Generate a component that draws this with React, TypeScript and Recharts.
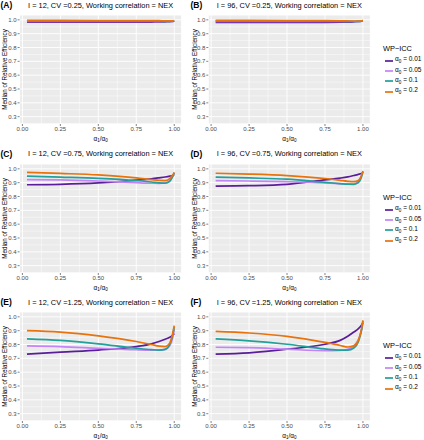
import { LineChart, Line, XAxis, YAxis, CartesianGrid, ReferenceLine, Label } from 'recharts'

// alpha1 / alpha0 grid where the curves are read
const alphaRatio = [0.03, 0.25, 0.5, 0.75, 0.85, 0.9, 0.94, 0.97, 0.99, 1.0]
const iccLabels = ['0.01', '0.05', '0.1', '0.2']
const panelTags = ['(A)', '(B)', '(C)', '(D)', '(E)', '(F)']
const panelTitles = [
  'I = 12, CV =0.25, Working correlation = NEX',
  'I = 96, CV =0.25, Working correlation = NEX',
  'I = 12, CV =0.75, Working correlation = NEX',
  'I = 96, CV =0.75, Working correlation = NEX',
  'I = 12, CV =1.25, Working correlation = NEX',
  'I = 96, CV =1.25, Working correlation = NEX',
]
const yTicks = [0.3, 0.4, 0.5, 0.6, 0.7, 0.8, 0.9, 1.0]
const yMinor = [0.25, 0.35, 0.45, 0.55, 0.65, 0.75, 0.85, 0.95]
const xTicks = [0, 0.25, 0.5, 0.75, 1]
const xMinor = [0.125, 0.375, 0.625, 0.875]

// (A) I = 12, CV = 0.25
const a_icc001 = [0.983, 0.983, 0.983, 0.983, 0.984, 0.985, 0.986, 0.987, 0.989, 0.99]
const a_icc005 = [0.988, 0.988, 0.988, 0.988, 0.988, 0.988, 0.988, 0.988, 0.989, 0.99]
const a_icc01 = [0.992, 0.992, 0.991, 0.991, 0.99, 0.99, 0.989, 0.989, 0.99, 0.991]
const a_icc02 = [0.996, 0.996, 0.995, 0.995, 0.994, 0.994, 0.993, 0.993, 0.993, 0.994]
// (B) I = 96, CV = 0.25
const b_icc001 = [0.982, 0.982, 0.982, 0.982, 0.983, 0.984, 0.986, 0.988, 0.99, 0.992]
const b_icc005 = [0.989, 0.989, 0.989, 0.989, 0.988, 0.988, 0.988, 0.989, 0.991, 0.993]
const b_icc01 = [0.993, 0.993, 0.992, 0.991, 0.99, 0.989, 0.988, 0.989, 0.991, 0.994]
const b_icc02 = [0.996, 0.996, 0.995, 0.994, 0.993, 0.992, 0.991, 0.991, 0.993, 0.995]
// (C) I = 12, CV = 0.75
const c_icc001 = [0.885, 0.888, 0.898, 0.918, 0.928, 0.935, 0.941, 0.947, 0.952, 0.956]
const c_icc005 = [0.922, 0.92, 0.912, 0.9, 0.896, 0.895, 0.898, 0.915, 0.945, 0.97]
const c_icc01 = [0.947, 0.94, 0.931, 0.915, 0.905, 0.898, 0.896, 0.91, 0.945, 0.972]
const c_icc02 = [0.975, 0.967, 0.956, 0.935, 0.922, 0.916, 0.915, 0.93, 0.955, 0.975]
// (D) I = 96, CV = 0.75
const d_icc001 = [0.875, 0.878, 0.888, 0.92, 0.933, 0.942, 0.952, 0.96, 0.966, 0.97]
const d_icc005 = [0.915, 0.912, 0.907, 0.898, 0.892, 0.889, 0.89, 0.91, 0.95, 0.98]
const d_icc01 = [0.94, 0.934, 0.925, 0.902, 0.893, 0.889, 0.888, 0.9, 0.94, 0.98]
const d_icc02 = [0.968, 0.962, 0.951, 0.93, 0.917, 0.91, 0.907, 0.915, 0.95, 0.985]
// (E) I = 12, CV = 1.25
const e_icc001 = [0.73, 0.745, 0.76, 0.785, 0.805, 0.822, 0.838, 0.852, 0.867, 0.88]
const e_icc005 = [0.79, 0.785, 0.773, 0.762, 0.76, 0.76, 0.765, 0.79, 0.85, 0.91]
const e_icc01 = [0.841, 0.83, 0.805, 0.773, 0.763, 0.76, 0.765, 0.8, 0.87, 0.925]
const e_icc02 = [0.9, 0.89, 0.863, 0.822, 0.8, 0.788, 0.785, 0.81, 0.88, 0.936]
// (F) I = 96, CV = 1.25
const f_icc001 = [0.73, 0.74, 0.766, 0.802, 0.83, 0.86, 0.89, 0.915, 0.94, 0.956]
const f_icc005 = [0.78, 0.778, 0.766, 0.756, 0.758, 0.766, 0.79, 0.835, 0.9, 0.956]
const f_icc01 = [0.84, 0.826, 0.802, 0.768, 0.76, 0.76, 0.775, 0.82, 0.9, 0.97]
const f_icc02 = [0.895, 0.883, 0.859, 0.815, 0.793, 0.782, 0.79, 0.83, 0.91, 0.975]

const panelSeries = [
  [a_icc001, a_icc005, a_icc01, a_icc02],
  [b_icc001, b_icc005, b_icc01, b_icc02],
  [c_icc001, c_icc005, c_icc01, c_icc02],
  [d_icc001, d_icc005, d_icc01, d_icc02],
  [e_icc001, e_icc005, e_icc01, e_icc02],
  [f_icc001, f_icc005, f_icc01, f_icc02],
]

const COLORS = ['#5A1E9B', '#C384F7', '#22A09A', '#E8720C']
const FONT = '"Liberation Sans", Arial, sans-serif'
const ROW_H = 148.5
const CHART_H = 148
const PLOT_TOP = 15
const PLOT_BOTTOM = 124
const X_AXIS_H = 14
const Y_AXIS_W = 12

const buildRows = (series: number[][]) =>
  alphaRatio.map((x, i) => ({ x, s0: series[0][i], s1: series[1][i], s2: series[2][i], s3: series[3][i] }))

function Panel({ idx }: { idx: number }) {
  const col = idx % 2
  const row = Math.floor(idx / 2)
  const left = col === 0 ? 0 : 190
  const width = col === 0 ? 190 : 234
  const plotLeft = col === 0 ? 19.6 : 208.3
  const plotRight = col === 0 ? 181.6 : 370.3
  const top = row * ROW_H
  const data = buildRows(panelSeries[idx])

  const yTitle = (p: any) => {
    const vb = p.viewBox
    const cy = vb.y + vb.height / 2
    const cx = 4.6
    return (
      <text x={cx} y={cy} transform={`rotate(-90 ${cx} ${cy})`} textAnchor="middle" dominantBaseline="central"
        fontSize={6.3} fill="#000" fontFamily={FONT}>
        Median of Relative Efficiency
      </text>
    )
  }
  const xTitle = (p: any) => {
    const vb = p.viewBox
    const cx = vb.x + vb.width / 2
    const cy = vb.y + 17
    return (
      <text x={cx} y={cy} textAnchor="middle" fontSize={6.4} fill="#000" fontFamily={FONT}>
        α<tspan fontSize={4.5} dy={1.4}>1</tspan><tspan dy={-1.4}>/α</tspan><tspan fontSize={4.5} dy={1.4}>0</tspan>
      </text>
    )
  }

  return (
    <div style={{ position: 'absolute', left, top, width, height: CHART_H }}>
      <LineChart
        width={width}
        height={CHART_H}
        data={data}
        margin={{
          top: PLOT_TOP,
          bottom: CHART_H - PLOT_BOTTOM - X_AXIS_H,
          left: plotLeft - left - Y_AXIS_W,
          right: left + width - plotRight,
        }}
      >
        <CartesianGrid fill="#EBEBEB" stroke="#FFFFFF" strokeWidth={0.9} />
        {yMinor.map((v) => (
          <ReferenceLine key={`ym${v}`} y={v} stroke="#FFFFFF" strokeWidth={0.45} />
        ))}
        {xMinor.map((v) => (
          <ReferenceLine key={`xm${v}`} x={v} stroke="#FFFFFF" strokeWidth={0.45} />
        ))}
        <XAxis
          dataKey="x"
          type="number"
          domain={[-0.0185, 1.0485]}
          ticks={xTicks}
          tickFormatter={(v: number) => v.toFixed(2)}
          axisLine={false}
          tickLine={{ stroke: '#333333', strokeWidth: 0.6 }}
          tickSize={2}
          tickMargin={1}
          height={X_AXIS_H}
          tick={{ fontSize: 6, fill: '#4D4D4D', fontFamily: FONT }}
          allowDataOverflow
          interval={0}
        >
          <Label content={xTitle} />
        </XAxis>
        <YAxis
          type="number"
          domain={[0.247, 1.035]}
          ticks={yTicks}
          tickFormatter={(v: number) => v.toFixed(1)}
          axisLine={false}
          tickLine={{ stroke: '#333333', strokeWidth: 0.6 }}
          tickSize={2}
          tickMargin={1}
          width={Y_AXIS_W}
          tick={{ fontSize: 6, fill: '#4D4D4D', fontFamily: FONT }}
          allowDataOverflow
          interval={0}
        >
          <Label content={yTitle} />
        </YAxis>
        {iccLabels.map((lab, i) => (
          <Line
            key={lab}
            dataKey={`s${i}`}
            type="monotone"
            stroke={COLORS[i]}
            strokeWidth={1.7}
            dot={false}
            isAnimationActive={false}
          />
        ))}
      </LineChart>
      <div style={{ position: 'absolute', left: 0.5, top: 0, fontSize: 8.5, fontWeight: 'bold', fontFamily: FONT, lineHeight: '10px' }}>
        {panelTags[idx]}
      </div>
      <div
        style={{
          position: 'absolute',
          left: plotLeft - left,
          width: plotRight - plotLeft,
          top: 0.5,
          textAlign: 'center',
          fontSize: 7.4,
          fontFamily: FONT,
          lineHeight: '9px',
          whiteSpace: 'nowrap',
        }}
      >
        {panelTitles[idx]}
      </div>
    </div>
  )
}

function IccLegend({ row }: { row: number }) {
  const top = Math.round(row * ROW_H + 43)
  return (
    <div style={{ position: 'absolute', left: 383, top, fontFamily: FONT }}>
      <div style={{ fontSize: 7.4, lineHeight: '11px', height: 12.5 }}>WP−ICC</div>
      {iccLabels.map((lab, i) => (
        <div key={lab} style={{ display: 'flex', alignItems: 'center', height: 10.3 }}>
          <svg width={12} height={4} style={{ display: 'block' }}>
            <line x1={2} x2={10} y1={2} y2={2} stroke={COLORS[i]} strokeWidth={1.7} />
          </svg>
          <div style={{ fontSize: 6.5, lineHeight: '10px', color: '#000', whiteSpace: 'nowrap' }}>
            α<sub style={{ fontSize: 4.6, verticalAlign: '-1.5px' }}>0</sub> = {lab}
          </div>
        </div>
      ))}
    </div>
  )
}

export default function App() {
  return (
    <div style={{ position: 'absolute', left: 0, top: 0, width: 424, height: 440, background: '#FFFFFF', overflow: 'hidden' }}>
      {panelTags.map((_, i) => (
        <Panel key={i} idx={i} />
      ))}
      {[0, 1, 2].map((r) => (
        <IccLegend key={r} row={r} />
      ))}
    </div>
  )
}
